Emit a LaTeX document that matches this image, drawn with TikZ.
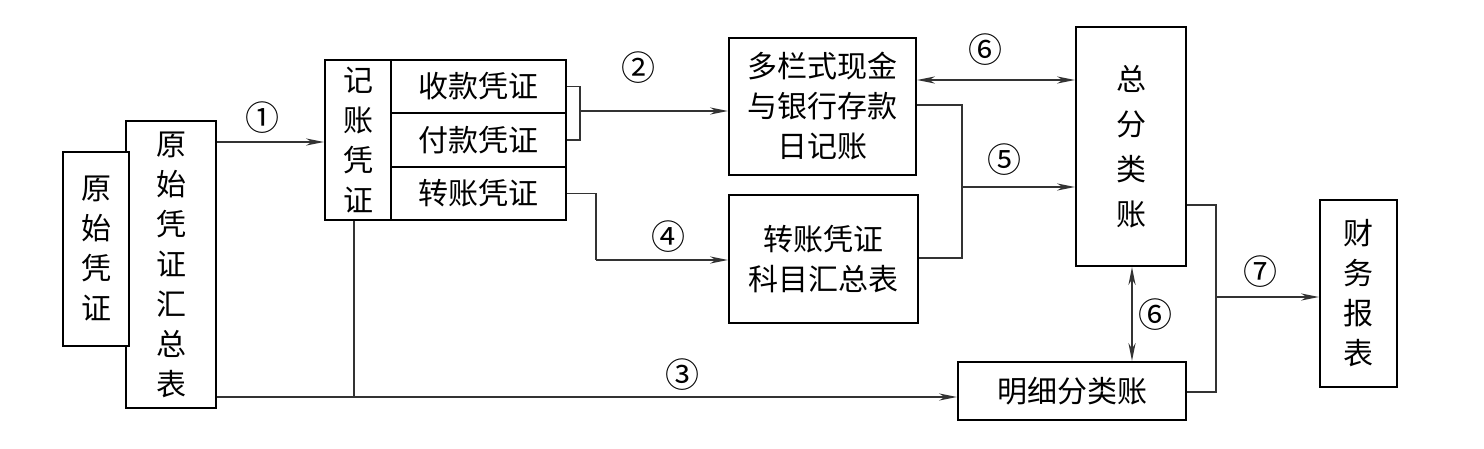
\documentclass[tikz,border=0pt]{standalone}
\usepackage{fontspec}
\setmainfont{Noto Sans CJK SC}
\usetikzlibrary{arrows.meta}
\begin{document}
\begin{tikzpicture}[x=0.5pt,y=-0.5pt,
  box/.style={draw, line width=1.1pt, fill=white, inner sep=0pt, align=center, font=\fontsize{15}{20}\selectfont},
  conn/.style={line width=0.6pt, draw=black!80},
  arr/.style={conn, -{Stealth[length=9pt,width=3.6pt]}},
  darr/.style={conn, {Stealth[length=9pt,width=3.6pt]}-{Stealth[length=9pt,width=3.6pt]}},
  lab/.style={font=\fontsize{17}{17}\selectfont, inner sep=0pt}]
\useasboundingbox (0,0) rectangle (1484,449);
% boxes
\node[box, minimum width=45pt, minimum height=143.5pt] (sum) at (171,264.5) {原\\始\\凭\\证\\汇\\总\\表};
\node[box, minimum width=33pt, minimum height=97pt] (orig) at (96,249) {原\\始\\凭\\证};
\node[box, minimum width=33pt, minimum height=80pt] (jz) at (358,140) {记\\账\\凭\\证};
\node[box, minimum width=87.5pt, minimum height=26.5pt] (sk) at (478.5,86.5) {收款凭证};
\node[box, minimum width=87.5pt, minimum height=27pt] (fk) at (478.5,140) {付款凭证};
\node[box, minimum width=87.5pt, minimum height=26.5pt] (zz) at (478.5,193.5) {转账凭证};
\node[box, minimum width=93.5pt, minimum height=68.5pt] (dl) at (822.5,106.5) {多栏式现金\\与银行存款\\日记账};
\node[box, minimum width=94.5pt, minimum height=64pt] (km) at (823.5,259) {转账凭证\\科目汇总表};
\node[box, minimum width=55pt, minimum height=119.5pt, font=\fontsize{15}{22.5}\selectfont] (zfl) at (1131,146.5) {总\\分\\类\\账};
\node[box, minimum width=114pt, minimum height=29pt] (mx) at (1072,391) {明细分类账};
\node[box, minimum width=38.5pt, minimum height=93.5pt] (cw) at (1358.5,293.5) {财\\务\\报\\表};
% level coordinates
\coordinate (y142) at (0,142);
\coordinate (y111) at (0,111);
\coordinate (y260) at (0,260);
\coordinate (y105) at (0,105);
\coordinate (y258) at (0,258);
\coordinate (y187) at (0,187);
\coordinate (y80) at (0,80);
\coordinate (y397) at (0,397);
\coordinate (y205) at (0,205);
\coordinate (y392) at (0,392);
\coordinate (y297) at (0,297);
\coordinate (xb) at (580,0);
\coordinate (x4) at (596,0);
\coordinate (x5) at (962,0);
\coordinate (x7) at (1216,0);
\coordinate (x6) at (1132,0);
\coordinate (x3) at (354,0);
% (1)
\draw[arr] (sum.east |- y142) -- (jz.west |- y142);
% (2)
\draw[conn] (sk.east) -| (xb |- fk.east) -- (fk.east);
\draw[arr] (xb |- y111) -- (dl.west |- y111);
% (4)
\draw[conn] (zz.east) -| (x4 |- y260);
\draw[arr] (x4 |- y260) -- (km.west |- y260);
% (5)
\draw[conn] (dl.east |- y105) -| (x5 |- y258) -- (km.east |- y258);
\draw[arr] (x5 |- y187) -- (zfl.west |- y187);
% (6)
\draw[darr] (dl.east |- y80) -- (zfl.west |- y80);
\draw[darr] (x6 |- zfl.south) -- (x6 |- mx.north);
% (3)
\draw[conn] (x3 |- jz.south) -- (x3 |- y397);
\draw[arr] (sum.east |- y397) -- (mx.west |- y397);
% (7)
\draw[conn] (zfl.east |- y205) -| (x7 |- y392) -- (mx.east |- y392);
\draw[arr] (x7 |- y297) -- (cw.west |- y297);
% labels
\node[lab] (l1) at (262,118) {①};
\node[lab] (l2) at (638,68) {②};
\node[lab] (l3) at (682,375) {③};
\node[lab] (l4) at (668,237) {④};
\node[lab] (l5) at (1004,160) {⑤};
\node[lab] (l6a) at (985,50) {⑥};
\node[lab] (l6b) at (1155,315) {⑥};
\node[lab] (l7) at (1260,272) {⑦};
\end{tikzpicture}
\end{document}
